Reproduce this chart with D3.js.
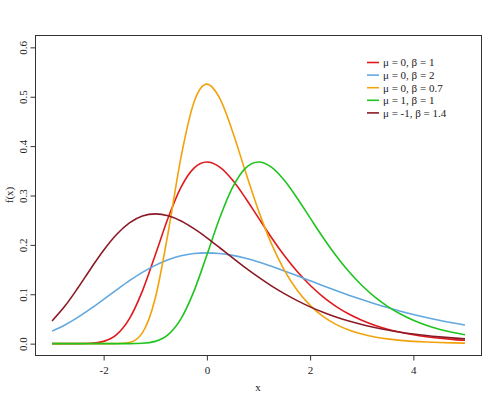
<!DOCTYPE html>
<html><head><meta charset="utf-8">
<script src="https://cdn.jsdelivr.net/npm/d3@7/dist/d3.min.js"></script>
<style>body{margin:0;background:#fff}svg{display:block}text{font-family:"Liberation Serif","DejaVu Serif",serif;fill:#222}</style>
</head><body><svg id="c" width="500" height="400"></svg>
<script>
const xs = [-3,-2.75,-2.5,-2.25,-2,-1.75,-1.5,-1.25,-1,-0.75,-0.5,-0.25,0,0.25,0.5,0.75,1,1.25,1.5,1.75,2,2.25,2.5,2.75,3,3.25,3.5,3.75,4,4.25,4.5,4.75,5];
const s1 = [0,0,0.0001,0.0007,0.0046,0.0182,0.0507,0.1064,0.1794,0.2549,0.3170,0.3556,0.3679,0.3574,0.3307,0.2945,0.2546,0.2151,0.1785,0.1460,0.1182,0.0948,0.0756,0.0600,0.0474,0.0373,0.0293,0.0230,0.0180,0.0141,0.0110,0.0086,0.0067];
const s2 = [0.0254,0.0379,0.0532,0.0708,0.0897,0.1089,0.1275,0.1443,0.1585,0.1698,0.1778,0.1825,0.1839,0.1826,0.1787,0.1729,0.1654,0.1567,0.1473,0.1374,0.1273,0.1173,0.1076,0.0982,0.0893,0.0809,0.0730,0.0658,0.0591,0.0530,0.0474,0.0424,0.0378];
const s3 = [0,0,0,0,0,0.0001,0.0024,0.0219,0.0919,0.2251,0.3783,0.4890,0.5255,0.4966,0.4287,0.3474,0.2694,0.2026,0.1490,0.1080,0.0775,0.0551,0.0390,0.0276,0.0194,0.0136,0.0096,0.0067,0.0047,0.0033,0.0023,0.0016,0.0011];
const s4 = [0,0,0,0,0,0,0.0001,0.0007,0.0046,0.0182,0.0507,0.1064,0.1794,0.2549,0.3170,0.3556,0.3679,0.3574,0.3307,0.2945,0.2546,0.2151,0.1785,0.1460,0.1182,0.0948,0.0756,0.0600,0.0474,0.0373,0.0293,0.0230,0.0180];
const s5 = [0.0459,0.0760,0.1126,0.1518,0.1891,0.2210,0.2445,0.2584,0.2628,0.2589,0.2483,0.2328,0.2144,0.1942,0.1737,0.1536,0.1347,0.1171,0.1013,0.0871,0.0745,0.0636,0.0540,0.0458,0.0387,0.0327,0.0276,0.0232,0.0195,0.0164,0.0138,0.0116,0.0097];
const seriesNames = ["μ = 0, β = 1","μ = 0, β = 2","μ = 0, β = 0.7","μ = 1, β = 1","μ = -1, β = 1.4"];
const seriesColors = ["#e0191c","#62a8e0","#f2a30c","#1fc41f","#8b1a26"];
const xTicks = [-2,0,2,4];
const xTickLabels = ["-2","0","2","4"];
const yTicks = [0,0.1,0.2,0.3,0.4,0.5,0.6];
const yTickLabels = ["0.0","0.1","0.2","0.3","0.4","0.5","0.6"];
const allSeries = [s1,s2,s3,s4,s5];

const svg = d3.select("#c");
const L=35.5, R=481.5, T=35.5, B=355.5;
const x = d3.scaleLinear().domain([-3.32,5.32]).range([L,R]);
const y = d3.scaleLinear().domain([-0.024,0.624]).range([B,T]);

const line = d3.line().x(d=>x(d[0])).y(d=>y(d[1])).curve(d3.curveMonotoneX);
allSeries.forEach((s,i)=>{
  svg.append("path").datum(xs.map((v,j)=>[v,s[j]]))
    .attr("d",line).attr("fill","none").attr("stroke",seriesColors[i]).attr("stroke-width",1.6);
});

svg.append("rect").attr("x",L).attr("y",T).attr("width",R-L).attr("height",B-T)
  .attr("fill","none").attr("stroke","#333").attr("stroke-width",1);

const xa = svg.append("g").attr("transform",`translate(0,${B})`)
  .call(d3.axisBottom(x).tickValues(xTicks).tickSize(5).tickPadding(6).tickFormat((d,i)=>xTickLabels[i]));
xa.select(".domain").remove();
xa.selectAll("line").attr("stroke","#333");
xa.selectAll("text").attr("font-size",11).attr("fill","#222").attr("font-family","Liberation Serif");

const ya = svg.append("g").attr("transform",`translate(${L},0)`)
  .call(d3.axisLeft(y).tickValues(yTicks).tickSize(5).tickFormat((d,i)=>yTickLabels[i]));
ya.select(".domain").remove();
ya.selectAll("line").attr("stroke","#333");
ya.selectAll("text").attr("font-size",11).attr("fill","#222").attr("font-family","Liberation Serif")
  .attr("x",0).attr("dy",null).attr("text-anchor","middle")
  .attr("transform","translate(-9,0) rotate(-90)");

svg.append("text").attr("x",258).attr("y",391).attr("text-anchor","middle").attr("font-size",11).text("x");
svg.append("text").attr("transform","translate(10,195) rotate(-90)").attr("text-anchor","middle").attr("dy","0.3em").attr("font-size",11).text("f(x)");

const lg = svg.append("g");
seriesNames.forEach((n,i)=>{
  const yy = 62.5 + i*12.6;
  lg.append("line").attr("x1",367).attr("x2",379).attr("y1",yy).attr("y2",yy)
    .attr("stroke",seriesColors[i]).attr("stroke-width",1.6);
  lg.append("text").attr("x",383).attr("y",yy).attr("dy","0.35em").attr("font-size",11).text(n);
});
</script></body></html>
